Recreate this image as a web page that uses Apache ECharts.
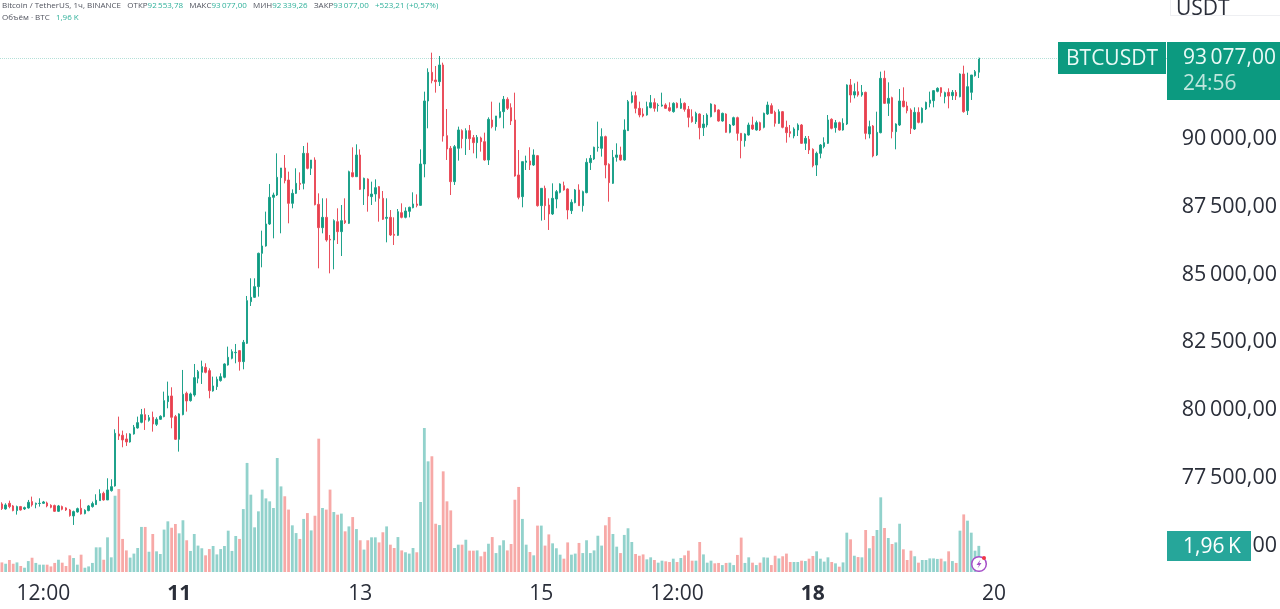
<!DOCTYPE html>
<html>
<head>
<meta charset="utf-8">
<title>BTCUSDT</title>
<script src="https://cdn.jsdelivr.net/npm/echarts@6/dist/echarts.min.js"></script>
<style>
  html, body { margin: 0; padding: 0; background: #fff; }
  #chart { width: 1280px; height: 609px; }
</style>
</head>
<body>
<div id="chart"></div>
<script>
// hourly candles
var opens = [
  76633,76449,76658,76560,76388,76535,76449,76486,76720,76621,
  76650,76658,76670,76584,76572,76363,76535,76486,76412,76191,
  76338,76474,76277,76388,76535,76609,76756,77027,76781,77125,
  77297,79214,79165,79030,78919,79214,79435,79644,79927,79718,
  79829,79571,79755,79853,80406,80615,79853,79018,79927,80714,
  80443,80652,81267,81488,81672,81549,80800,80959,81181,81304,
  81758,82004,82210,82287,81881,82557,84093,84253,84646,85875,
  86146,86957,87940,88026,88665,89021,88578,87718,88087,88456,
  88456,89562,89009,89316,87681,86821,87202,86391,86366,87042,
  86674,87079,86981,88849,88701,89500,88247,88615,87964,88062,
  88333,87903,87165,87202,86575,86538,87374,87202,87423,87558,
  87694,87644,89169,91492,92549,92266,92205,92819,90214,89747,
  88518,89747,90398,90103,90398,90140,89956,90128,89992,89317,
  90791,90546,90890,91099,91553,91246,90791,88763,87965,89230,
  89280,89132,89476,87633,88272,87657,87326,87879,88125,88370,
  88247,87449,87743,88211,87633,88112,89218,89353,89772,89747,
  90177,89157,88456,89415,89501,89317,90398,91443,91689,91222,
  91013,90976,91246,91430,91320,91308,91345,91246,91099,91406,
  91222,91406,91184,90914,90730,91012,90508,90607,90914,91344,
  91160,90754,91012,90336,90607,90877,90299,90029,90238,90607,
  90422,90693,90521,91012,91320,91074,90668,91098,90521,90361,
  90201,90422,90607,89931,90078,89710,89132,89562,89808,89931,
  90816,90508,90693,90422,90644,92082,91713,91836,91713,91811,
  90275,90570,89501,90324,92327,91406,91614,90361,90607,91492,
  91307,91160,90459,91074,90705,91197,91406,91504,91848,91983,
  91651,91811,91688,91811,91651,92487,91135,91811,92426,92553.78
];
var highs = [
  76695,76658,76756,76596,76572,76560,76535,76781,76904,76682,
  76842,76744,76720,76621,76609,76596,76572,76510,76449,76388,
  76498,76805,76437,76596,76720,76990,77174,77088,77580,77543,
  79386,79853,79337,79239,79239,79546,79853,80136,80161,79915,
  80038,79829,79902,80775,81144,80935,79915,79976,81574,80775,
  80738,81795,81574,81918,81820,81635,81328,81328,81451,81820,
  82434,82336,82532,82311,82680,84302,84954,84954,85900,86711,
  87412,88432,88112,89562,89022,89500,88886,88234,89009,88861,
  89832,89955,89316,89414,88087,87903,87903,86551,87128,87534,
  87657,87903,88923,89783,89894,89709,88665,88640,88517,88603,
  88357,88173,87903,87472,87202,87509,87718,87571,87595,88124,
  88050,89709,91836,92696,93274,92782,93151,92905,91197,89833,
  89870,90546,90447,90484,90607,90238,90238,90177,90324,90890,
  91467,90939,91430,91676,91627,91406,91799,89685,89255,89476,
  89784,89710,89501,88272,88370,87903,88456,88211,88456,88518,
  88272,87866,88247,88420,88186,89378,89501,89808,90730,90484,
  90214,89194,89685,89931,89808,90816,91529,91836,91836,91467,
  91222,91467,91713,91590,91406,91799,91406,91443,91443,91443,
  91590,91443,91307,91184,91098,91037,90975,91037,91406,91369,
  91184,91062,91037,90644,90914,90914,90299,90299,90693,90914,
  90767,90730,91062,91467,91406,91135,91184,91123,90767,90607,
  90521,90668,90644,90201,90201,89746,89624,89906,90152,90975,
  90853,90791,90730,90853,92106,92303,92143,92204,92082,91836,
  90767,90607,91098,92573,92610,92180,91651,90668,91934,91996,
  91467,91221,91258,91258,91258,91467,91836,91897,91996,91996,
  91836,91959,91897,91897,92512,92794,92536,92450,92635,93077
];
var lows = [
  76412,76424,76474,76363,76240,76388,76412,76461,76535,76474,
  76535,76633,76510,76474,76338,76338,76400,76375,76166,75859,
  76314,76240,76252,76363,76498,76596,76756,76756,76781,77088,
  77272,78993,78723,78772,78895,79190,79411,79608,79362,79669,
  79300,79509,79730,79829,80161,79423,78993,78563,79902,80038,
  80406,80591,81082,81058,81451,80529,80775,80837,81144,81267,
  81734,81967,81820,81549,81598,82532,83933,84229,84278,85359,
  86121,86920,86428,87989,86613,88456,86981,87534,88062,88210,
  88234,88972,88763,87644,85322,86612,86305,85137,85285,86219,
  85776,86956,86956,88677,88701,88210,87657,87411,87657,87780,
  87042,87104,86280,86514,86182,86514,87165,87165,87202,87534,
  87571,87620,88678,90484,92143,91799,92045,89993,89317,88026,
  88395,89292,89747,89501,89685,89562,89378,89624,89292,89132,
  90484,90398,90853,90484,91160,90607,88702,87866,87571,88948,
  88948,89095,87596,87080,87105,86736,87289,87535,88088,88186,
  87129,87326,87719,87620,87412,88088,88948,89317,89624,89440,
  88641,87780,88432,89255,89292,89292,90386,91406,91037,90890,
  90890,90951,91222,91099,91099,91283,91197,91099,91062,91222,
  91197,91099,90521,90693,90644,90078,90201,90521,90889,91074,
  90730,90730,90324,90299,90570,90029,89378,89808,90213,90422,
  90398,90385,90484,90975,91012,90545,90644,90484,89955,90152,
  90115,90201,89906,89685,89537,89046,88726,89378,89746,89906,
  90447,90324,90398,90398,90607,91430,91590,91651,91651,90078,
  90115,89415,89464,90299,91381,90939,90115,89710,90570,91258,
  91037,90275,90422,90668,90668,91160,91258,91258,91811,91651,
  91406,91221,91529,91529,91627,91061,90975,91529,92389,92339.26
];
var closes = [
  76461,76596,76535,76388,76535,76412,76498,76695,76596,76658,
  76658,76707,76560,76510,76363,76560,76437,76412,76203,76351,
  76461,76265,76400,76560,76646,76769,77014,76781,77150,77272,
  79239,79140,78993,78919,79214,79460,79632,79927,79730,79816,
  79583,79755,79866,80443,80615,79829,79018,79952,80677,80431,
  80689,81291,81512,81697,81488,80812,80984,81230,81328,81795,
  82041,82250,82225,81881,82594,84130,84253,84646,85875,86146,
  86957,87940,88026,88678,89022,88554,87718,88087,88456,88419,
  89562,89009,89316,87669,86821,87202,86366,86366,87079,86674,
  87079,87005,88886,88701,89500,88234,88640,87989,88062,88296,
  87903,87128,87202,86551,86538,87411,87202,87436,87571,87694,
  87644,89169,91492,92549,92242,92205,92819,90201,89722,88518,
  89808,90423,90103,90398,90103,89956,90152,89992,89317,90816,
  90546,90939,91099,91553,91222,90755,88727,87940,89255,89280,
  89132,89501,87633,88272,87633,87326,87903,88149,88432,88211,
  87473,87756,88211,87633,88149,89231,89378,89784,89790,90177,
  89132,88481,89415,89501,89317,90423,91467,91689,91222,90976,
  90939,91283,91430,91222,91335,91345,91222,91135,91406,91246,
  91406,91185,90889,90730,91037,90508,90644,90975,91381,91098,
  90754,91037,90336,90607,90877,90299,90029,90275,90607,90459,
  90693,90422,91037,91344,91037,90668,91098,90521,90324,90299,
  90459,90607,89931,90115,89685,89107,89562,89869,89955,90791,
  90484,90693,90422,90668,92082,91713,91836,91713,91811,90299,
  90545,89464,90336,92327,91406,91590,90361,90644,91492,91283,
  91135,90484,91074,90705,91221,91442,91529,91873,91959,91799,
  91799,91676,91811,91676,92487,91098,92020,92450,92573,93077
];
// volume in thousands of BTC
var volumes = [
  0.72,0.62,0.90,0.62,0.72,0.45,0.32,0.82,1.07,0.68,
  0.55,0.55,0.55,0.42,0.68,0.92,0.70,0.45,1.25,1.05,
  0.55,1.30,0.32,0.42,0.68,1.85,1.85,0.92,2.60,1.10,
  5.72,6.22,2.48,1.62,1.08,1.38,1.80,3.38,3.38,1.52,
  2.85,1.55,1.35,3.18,3.80,3.32,3.60,2.90,3.88,2.38,
  1.58,2.85,1.98,1.78,1.25,1.72,1.95,1.32,1.72,1.95,
  3.10,1.58,2.70,2.48,4.72,8.18,5.80,3.35,4.55,6.18,
  5.52,5.30,4.80,8.55,6.42,5.68,4.68,3.50,2.92,2.48,
  3.98,4.42,3.12,4.22,10.00,4.80,4.68,6.18,4.50,4.30,
  4.38,3.05,3.42,4.12,3.22,2.38,1.68,2.38,2.60,2.60,
  2.22,2.98,3.42,2.05,1.80,2.62,1.62,1.48,1.38,1.80,
  1.48,5.25,10.80,8.30,8.68,3.62,3.52,7.55,5.30,4.62,
  1.80,2.05,2.05,2.42,1.60,1.60,1.62,1.18,1.52,2.12,
  2.62,1.42,2.00,2.38,1.62,2.10,5.42,6.38,3.98,2.05,
  1.50,1.25,3.48,3.48,1.98,2.82,2.15,1.78,1.30,1.00,
  2.22,1.30,1.38,2.18,1.42,2.38,1.42,1.62,2.72,1.98,
  3.50,4.12,2.85,1.90,1.42,2.78,3.28,2.25,1.35,1.22,
  1.32,0.95,1.10,0.90,0.70,0.85,0.80,0.75,1.00,0.75,
  1.05,1.25,1.60,0.85,0.85,2.25,1.32,0.70,0.85,0.65,
  0.68,0.52,0.68,0.70,0.52,1.28,2.58,0.68,1.10,0.70,
  0.52,0.70,1.10,1.08,0.52,1.22,1.02,1.18,1.38,0.75,
  0.75,0.75,0.85,0.82,1.00,1.20,1.55,1.00,0.78,1.10,
  0.75,0.65,0.40,0.72,2.95,2.45,1.22,1.12,1.10,3.15,
  1.78,2.70,3.15,5.60,3.30,2.55,2.10,2.22,3.62,1.70,
  0.90,1.60,1.18,0.70,0.90,0.90,1.02,1.02,0.98,1.00,
  0.80,1.55,0.82,0.68,3.10,4.32,3.85,2.95,1.60,1.96
];
var tickIndex = [11, 47, 95, 143, 179, 215, 263];
var tickLabels = ['12:00', '11', '13', '15', '12:00', '18', '20'];
var boldTicks = ['11', '18'];
var slotCount = 310; // candles plus the empty space to the right of the last one

var UP = '#0d9b82', DOWN = '#e8404e';
var UP_WICK = '#1fa28b', DOWN_WICK = '#ea4f5c';
var UP_VOL = '#92d2cc', DOWN_VOL = '#f7a9a7';
var TEXT = '#2a2e39';
var FONT = '"Open Sans", "Noto Sans", sans-serif';

var categories = [];
for (var i = 0; i < slotCount; i++) {
  var t = tickIndex.indexOf(i);
  categories.push(t >= 0 ? tickLabels[t] : '');
}

var candles = opens.map(function (o, i) {
  return [o, closes[i], lows[i], highs[i]];
});
var volumeBars = volumes.map(function (v, i) {
  return { value: v, itemStyle: { color: closes[i] >= opens[i] ? UP_VOL : DOWN_VOL } };
});

function priceLabel(v) {
  if (v > 90000) return ''; // higher ticks sit under the price tag and the USDT box
  return String(v).replace(/(\d\d)(\d{3})/, '$1\u2009$2') + ',00';
}

function box(x, y, w, h, color) {
  return { type: 'rect', z: 50, shape: { x: x, y: y, width: w, height: h }, style: { fill: color } };
}
function label(x, y, text, color, size) {
  return {
    type: 'text', z: 51, x: x, y: y,
    style: { text: text, fill: color, font: (size || 21) + 'px ' + FONT, textVerticalAlign: 'middle' }
  };
}

var header =
  '{k|Bitcoin / TetherUS, 1ч, BINANCE   ОТКР}{v|92\u2009553,78}{k|   МАКС}{v|93\u2009077,00}' +
  '{k|   МИН}{v|92\u2009339,26}{k|   ЗАКР}{v|93\u2009077,00}{v|   +523,21 (+0,57%)}\n' +
  '{k|Объём · BTC   }{v|1,96 K}';

var chart = echarts.init(document.getElementById('chart'));
chart.setOption({
  animation: false,
  backgroundColor: '#ffffff',
  textStyle: { fontFamily: FONT },
  title: {
    text: header, left: 2, top: 0, padding: 0,
    textStyle: {
      lineHeight: 12,
      rich: {
        k: { fontFamily: FONT, fontSize: 8, fontWeight: 'normal', color: '#50535e', lineHeight: 12 },
        v: { fontFamily: FONT, fontSize: 8, fontWeight: 'normal', color: '#2fb09a', lineHeight: 12 }
      }
    }
  },
  grid: [
    { left: 0, width: 1169.3, top: 5.85, height: 542.4 },
    { left: 0, width: 1169.3, top: 400, height: 172 }
  ],
  xAxis: [
    {
      type: 'category', gridIndex: 0, data: categories, show: false
    },
    {
      type: 'category', gridIndex: 1, data: categories,
      axisLine: { show: false },
      axisTick: { show: false },
      axisLabel: {
        interval: function (i) { return tickIndex.indexOf(i) >= 0; },
        margin: 12,
        fontFamily: FONT,
        fontSize: 21,
        color: TEXT,
        formatter: function (v) { return boldTicks.indexOf(v) >= 0 ? '{b|' + v + '}' : v; },
        rich: { b: { fontFamily: FONT, fontSize: 21, fontWeight: 'bold', color: TEXT } }
      }
    }
  ],
  yAxis: [
    {
      type: 'value', gridIndex: 0, position: 'right', scale: true,
      min: 75000, max: 95000, interval: 2500,
      axisLine: { show: false },
      axisTick: { show: false },
      splitLine: { show: false },
      axisLabel: {
        margin: 12.5,
        fontFamily: FONT,
        fontSize: 21.5,
        color: TEXT,
        verticalAlign: 'bottom',
        lineHeight: 5,
        formatter: priceLabel
      }
    },
    {
      type: 'value', gridIndex: 1, min: 0, max: 12.9, show: false
    }
  ],
  series: [
    {
      type: 'bar', xAxisIndex: 1, yAxisIndex: 1,
      barWidth: 2.8,
      data: volumeBars,
      silent: true
    },
    {
      type: 'candlestick', xAxisIndex: 0, yAxisIndex: 0,
      barWidth: 2,
      data: candles,
      itemStyle: {
        color: UP, color0: DOWN,
        borderColor: UP_WICK, borderColor0: DOWN_WICK,
        borderWidth: 1
      },
      markLine: {
        silent: true,
        symbol: 'none',
        label: { show: false },
        lineStyle: { color: '#b4e0d8', type: 'dotted', width: 1 },
        data: [{ yAxis: closes[closes.length - 1] }]
      }
    }
  ],
  graphic: [
    // axis unit box, cut off by the top of the picture
    box(1170, 0, 110, 16, '#ffffff'),
    box(1170, 0, 1, 16, '#eeeff2'),
    box(1170, 15, 110, 1, '#eeeff2'),
    label(1176, 9, 'USDT', TEXT),
    // price tags
    box(1058, 42, 108, 32, '#0c9a80'),
    label(1066, 59, 'BTCUSDT', '#eafaf6'),
    box(1167, 42, 113, 58, '#0c9a80'),
    label(1183, 58, '93\u2009077,00', '#eafaf6'),
    label(1183, 84, '24:56', '#bfe6dd'),
    // volume tag over the 75 000 tick
    box(1167, 531, 84, 30, '#26a69a'),
    label(1183, 547, '1,96\u2009K', '#ffffff'),
    // flash icon
    {
      type: 'circle', z: 52, shape: { cx: 979, cy: 564, r: 7.3 },
      style: { fill: '#ffffff', stroke: '#a64fc9', lineWidth: 1.5 }
    },
    {
      type: 'polygon', z: 53,
      shape: { points: [[980.5, 559.5], [976.5, 565], [979, 565], [977.5, 568.5], [981.5, 563], [979.2, 563]] },
      style: { fill: '#a64fc9' }
    },
    {
      type: 'circle', z: 54, shape: { cx: 984, cy: 558, r: 2 },
      style: { fill: '#f23645' }
    }
  ]
});
</script>
</body>
</html>
